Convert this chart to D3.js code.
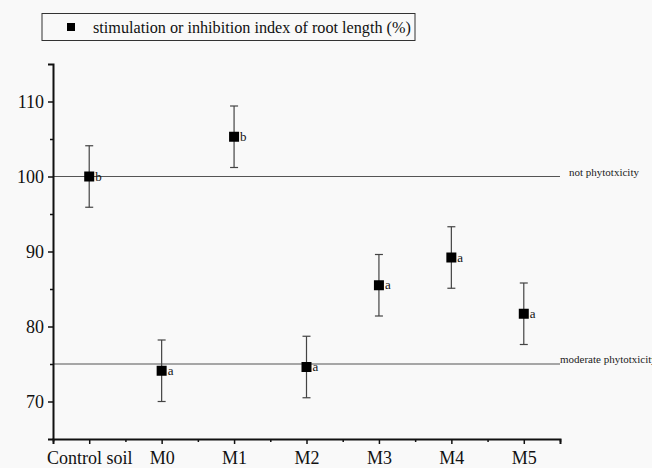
<!DOCTYPE html>
<html><head><meta charset="utf-8">
<script src="https://cdn.jsdelivr.net/npm/d3@7"></script>
<style>
html,body{margin:0;padding:0;background:#f9f9f9;}
svg{display:block;}
</style></head>
<body><svg id="c" width="652" height="468"></svg>
<script>
const categories = ["Control soil","M0","M1","M2","M3","M4","M5"];
const values = [100, 74.1, 105.3, 74.6, 85.5, 89.2, 81.7];
const errors = [4.1, 4.1, 4.1, 4.1, 4.1, 4.1, 4.1];
const letters = ["b","a","b","a","a","a","a"];
const yTicks = [70, 80, 90, 100, 110];
const refValues = [100, 75];
const refLabels = ["not phytotxicity", "moderate phytotxicity"];
const legendLabel = "stimulation or inhibition index of root length (%)";

const svg = d3.select("#c");
const font = "'Liberation Serif', 'DejaVu Serif', serif";
const x = d3.scaleLinear().domain([-0.5, 6.5]).range([53, 560]);
const y = d3.scaleLinear().domain([65, 115]).range([439, 64]);

// reference lines
refValues.forEach((v, i) => {
  svg.append("line").attr("x1", x(-0.5)).attr("x2", x(6.5))
    .attr("y1", y(v)).attr("y2", y(v))
    .attr("stroke", "#555").attr("stroke-width", 1.2);
});
svg.append("text").attr("x", 569).attr("y", y(refValues[0]) - 1)
  .attr("font-family", font).attr("font-size", 11).attr("fill", "#222")
  .text(refLabels[0]);
svg.append("text").attr("x", 560).attr("y", y(refValues[1]) - 1)
  .attr("font-family", font).attr("font-size", 11).attr("fill", "#222")
  .text(refLabels[1]);

// axes
const yAxis = d3.axisLeft(y).tickValues(yTicks).tickSize(5).tickPadding(4).tickFormat(d3.format("d"));
const yMinor = d3.axisLeft(y).tickValues([75, 85, 95, 105]).tickSize(3).tickFormat("");
const gy = svg.append("g").attr("transform", `translate(${x(-0.5)},0)`).call(yAxis);
svg.append("g").attr("transform", `translate(${x(-0.5)},0)`).call(yMinor).select(".domain").remove();
const xAxis = d3.axisBottom(x).tickValues(d3.range(categories.length)).tickSize(5).tickPadding(7)
  .tickFormat(i => categories[i]);
const xMinor = d3.axisBottom(x).tickValues(d3.range(-0.5, 7, 1)).tickSize(3).tickFormat("");
const gx = svg.append("g").attr("transform", `translate(0,${y(65)})`).call(xAxis);
svg.append("g").attr("transform", `translate(0,${y(65)})`).call(xMinor).select(".domain").remove();
[gx, gy].forEach(g => {
  g.selectAll(".tick text").attr("font-family", font).attr("font-size", 18).attr("fill", "#111");
});
svg.selectAll("g .tick line").attr("stroke", "#111").attr("stroke-width", 1.5);
svg.selectAll("g .domain").attr("stroke", "#111").attr("stroke-width", 2);

// error bars
const pts = svg.append("g");
categories.forEach((c, i) => {
  const cx = x(i), lo = y(values[i] - errors[i]), hi = y(values[i] + errors[i]);
  pts.append("line").attr("x1", cx).attr("x2", cx).attr("y1", lo).attr("y2", hi).attr("stroke", "#444").attr("stroke-width", 1.2);
  pts.append("line").attr("x1", cx - 4).attr("x2", cx + 4).attr("y1", lo).attr("y2", lo).attr("stroke", "#444").attr("stroke-width", 1.2);
  pts.append("line").attr("x1", cx - 4).attr("x2", cx + 4).attr("y1", hi).attr("y2", hi).attr("stroke", "#444").attr("stroke-width", 1.2);
  pts.append("rect").attr("x", cx - 5).attr("y", y(values[i]) - 5).attr("width", 10).attr("height", 10).attr("fill", "#000");
  pts.append("text").attr("x", cx + 6).attr("y", y(values[i]) + 4)
    .attr("font-family", font).attr("font-size", 13).attr("fill", "#111").text(letters[i]);
});

// legend
const lg = svg.append("g");
lg.append("rect").attr("x", 42).attr("y", 13.5).attr("width", 373).attr("height", 27)
  .attr("fill", "none").attr("stroke", "#333").attr("stroke-width", 1);
lg.append("rect").attr("x", 67).attr("y", 23).attr("width", 8).attr("height", 8).attr("fill", "#000");
lg.append("text").attr("x", 93).attr("y", 33).attr("font-family", font).attr("font-size", 16.2).attr("fill", "#111")
  .text(legendLabel);
</script></body></html>
